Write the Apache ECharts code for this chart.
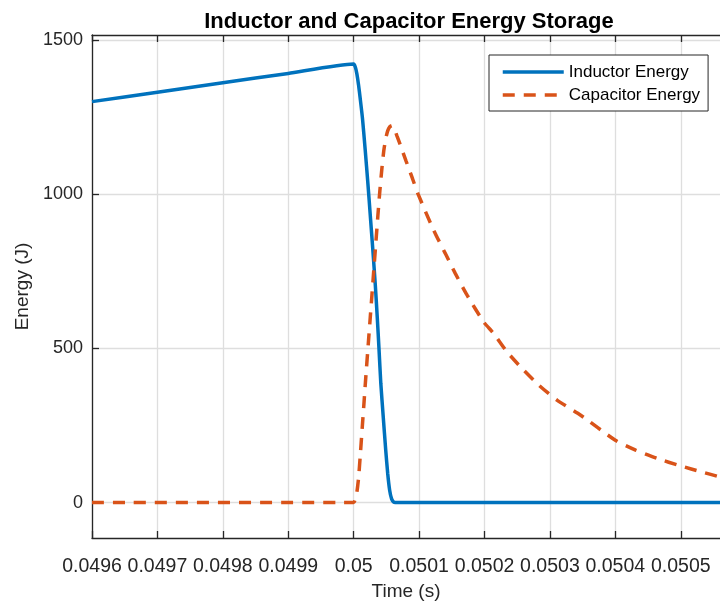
<!DOCTYPE html>
<html>
<head>
<meta charset="utf-8">
<script src="https://cdn.jsdelivr.net/npm/echarts@6/dist/echarts.min.js"></script>
<style>
  html, body { margin: 0; padding: 0; background: #fff; }
  #chart { width: 720px; height: 602px; }
</style>
</head>
<body>
<div id="chart"></div>
<script>
// Inductor energy (J) vs time (s)
const inductorTime = [0.0496, 0.0497, 0.0498, 0.0499, 0.05, 0.0500025, 0.0500049, 0.0500074, 0.05001,
  0.0500135, 0.0500176, 0.0500217, 0.0500255, 0.0500293, 0.0500329, 0.050036, 0.0500388, 0.0500415,
  0.0500452, 0.050049, 0.050052, 0.050055, 0.050058, 0.050061, 0.0500635, 0.05056];
const inductorEnergy = [1300, 1330.5, 1361, 1391.5, 1422, 1412, 1390, 1355, 1310,
  1245, 1144, 1036, 928, 819, 711, 603, 495, 386,
  278, 170, 95, 40, 12, 2, 0, 0];

// Capacitor energy (J) vs time (s)
const capacitorTime = [0.0496, 0.05, 0.0500025, 0.050005, 0.0500075, 0.05001, 0.050013, 0.050016,
  0.050019, 0.050022, 0.050025, 0.050028, 0.050031, 0.050034, 0.050037, 0.05004, 0.050043, 0.050046,
  0.050049, 0.050052, 0.050055, 0.0500585, 0.050062, 0.050066, 0.0500712, 0.050080, 0.050090,
  0.0500985, 0.0501221, 0.050140, 0.0501553, 0.0501732, 0.0501986, 0.0502137, 0.0502342, 0.0502573,
  0.0502828, 0.0503108, 0.0503465, 0.0504, 0.050431, 0.0504638, 0.0504994, 0.0505326, 0.05056];
const capacitorEnergy = [0, 0, 12, 35, 80, 150, 240, 330,
  420, 505, 590, 675, 760, 845, 930, 1010, 1080, 1140,
  1180, 1205, 1218, 1222, 1212, 1190, 1160, 1108, 1050,
  1000, 884, 808, 743, 673, 586, 549, 489, 435,
  381, 332, 284, 202, 170, 143, 119, 99, 83];

const xTicks = [0.0496, 0.0497, 0.0498, 0.0499, 0.05, 0.0501, 0.0502, 0.0503, 0.0504, 0.0505];
const yTicks = [0, 500, 1000, 1500];

const seriesNames = ['Inductor Energy', 'Capacitor Energy'];
const colors = ['#0072BD', '#D95319'];

const pairs = (xs, ys) => xs.map((x, i) => [x, ys[i]]);

const FONT = '"Liberation Sans", Arial, Helvetica, sans-serif';
const AXIS_COLOR = '#262626';
const GRID_COLOR = '#dedede';

const chart = echarts.init(document.getElementById('chart'), null, { renderer: 'canvas' });

const xMin = 0.0496, xMax = 0.05056;
const yMin = -115, yMax = 1516;

chart.setOption({
  animation: false,
  backgroundColor: '#ffffff',
  title: {
    text: 'Inductor and Capacitor Energy Storage',
    left: 404,
    textAlign: 'center',
    top: 6,
    textStyle: { fontFamily: FONT, fontSize: 22, fontWeight: 'bold', color: '#000' }
  },
  grid: { left: 92, top: 35, right: 0, bottom: 64, containLabel: false, outerBoundsMode: 'none' },
  legend: {
    orient: 'vertical',
    left: 489,
    top: 55,
    padding: [7, 8, 6, 12],
    itemGap: 3,
    itemWidth: 61,
    itemHeight: 14,
    backgroundColor: '#fff',
    borderColor: AXIS_COLOR,
    borderWidth: 1,
    borderRadius: 0,
    itemStyle: { opacity: 0, borderWidth: 0 },
    lineStyle: { width: 3.5 },
    textStyle: { fontFamily: FONT, fontSize: 17, lineHeight: 20, color: '#000' },
    data: seriesNames
  },
  xAxis: [{
    type: 'value',
    min: xMin,
    max: xMax,
    name: 'Time (s)',
    nameLocation: 'middle',
    nameGap: 40,
    nameTextStyle: { fontFamily: FONT, fontSize: 19, color: '#262626' },
    axisLine: { show: true, onZero: false, lineStyle: { color: AXIS_COLOR, width: 1.3 } },
    axisTick: { show: true, inside: true, length: 7, customValues: xTicks, lineStyle: { color: AXIS_COLOR, width: 1.3 } },
    axisLabel: {
      customValues: xTicks,
      margin: 19,
      fontFamily: FONT, fontSize: 19.5, color: '#262626',
      formatter: v => String(+(+v).toFixed(4))
    },
    splitLine: { show: true, lineStyle: { color: GRID_COLOR, width: 1.3 } }
  }, {
    type: 'value',
    position: 'top',
    min: xMin,
    max: xMax,
    axisLine: { show: true, onZero: false, lineStyle: { color: AXIS_COLOR, width: 1.3 } },
    axisTick: { show: true, inside: true, length: 7, customValues: xTicks, lineStyle: { color: AXIS_COLOR, width: 1.3 } },
    axisLabel: { show: false },
    splitLine: { show: false }
  }],
  yAxis: {
    type: 'value',
    min: yMin,
    max: yMax,
    name: 'Energy (J)',
    nameLocation: 'middle',
    nameGap: 53,
    nameTextStyle: { fontFamily: FONT, fontSize: 19, color: '#262626' },
    axisLine: { show: true, onZero: false, lineStyle: { color: AXIS_COLOR, width: 1.3 } },
    axisTick: { show: true, inside: true, length: 7, customValues: yTicks, lineStyle: { color: AXIS_COLOR, width: 1.3 } },
    axisLabel: {
      customValues: yTicks,
      margin: 9,
      fontFamily: FONT, fontSize: 18, color: '#262626',
      formatter: v => String(Math.round(v))
    },
    splitLine: { show: true, lineStyle: { color: GRID_COLOR, width: 1.3 } }
  },
  series: [{
    name: seriesNames[0],
    type: 'line',
    xAxisIndex: 0,
    data: pairs(inductorTime, inductorEnergy),
    showSymbol: false,
    symbol: 'none',
    smooth: 0.2,
    lineStyle: { color: colors[0], width: 3.5 },
    itemStyle: { color: colors[0] },
    z: 3
  }, {
    name: seriesNames[1],
    type: 'line',
    xAxisIndex: 0,
    data: pairs(capacitorTime, capacitorEnergy),
    showSymbol: false,
    symbol: 'none',
    smooth: 0.2,
    lineStyle: { color: colors[1], width: 3.5, type: [12, 9] },
    itemStyle: { color: colors[1] },
    z: 4
  }]
});
</script>
</body>
</html>
